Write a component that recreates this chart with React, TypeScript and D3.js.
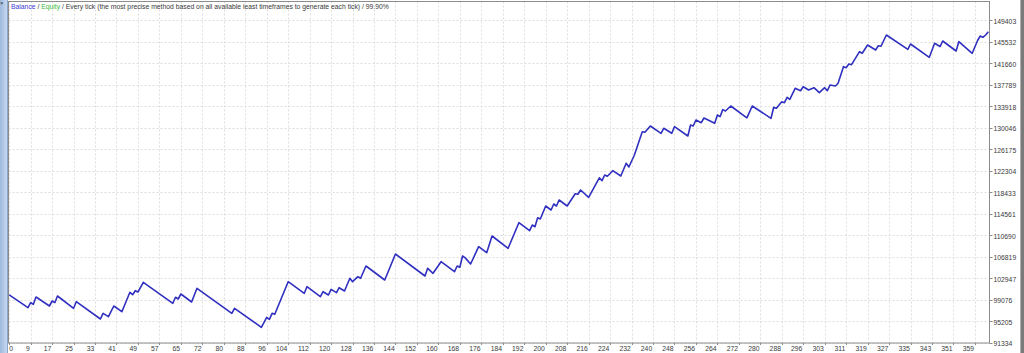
import React from "react";
import * as d3 from "d3";

// Trade index (x) and balance (y) at each vertex of the balance curve
const tradeIndex = [0,7,8,9,10,15,16,17,18,24,25,34,35,37,39,42,45,46,47,48,50,61,62,63,64,68,70,83,84,94,96,97,98,99,104,110,111,116,117,119,120,122,123,125,127,128,130,131,133,140,144,155,156,158,161,166,167,168,169,170,172,175,178,180,186,190,194,195,196,197,198,200,202,203,204,205,208,211,212,213,216,220,221,222,223,225,228,230,231,233,236,237,239,243,244,247,248,253,254,255,256,258,259,263,264,265,266,267,269,275,277,284,285,286,288,289,290,291,293,295,296,298,300,302,304,305,306,308,309,311,312,313,314,317,318,320,323,324,325,327,335,336,343,345,347,348,353,354,359,361,362,363,364,365];
const balance = [100000,97682,98582,98294,99607,97988,98887,98582,99786,97574,98761,95650,96675,96064,97988,96963,100452,100020,100740,100506,102250,98474,99553,99247,100146,98707,101171,96675,97574,94157,95956,95596,96675,96495,102358,100272,101459,99661,100560,99966,100991,100380,101279,100686,102970,102358,103257,102970,105182,102664,107340,103383,104768,103869,105955,104157,105182,104948,106980,106640,105540,108653,107574,110577,108365,112969,111530,112555,112249,113868,113634,115972,115253,116332,115972,117051,115972,118166,118076,118850,117537,121044,120522,121547,121331,122320,121367,123651,122986,125054,129334,129226,130359,129046,129946,129046,130233,128561,130539,130359,131438,130953,131798,130845,132338,132032,133300,133050,133956,131834,133956,131744,133722,133543,134730,134550,135521,135161,137139,136708,137427,136834,137247,136348,137247,136708,137733,137553,138038,141024,140844,141509,141384,143722,143434,144926,144027,144800,144700,146725,144153,145106,142714,145232,144650,145646,143847,145520,143434,145736,146545,146311,146725,147318];

// Axis tick labels as printed
const xTickLabels = [0,9,17,25,33,41,49,57,65,72,80,88,96,104,112,120,128,136,144,152,160,168,176,184,192,200,208,216,224,232,240,248,256,264,272,280,288,296,303,311,319,327,335,343,351,359];
const xTickStep = 8;
const yTickLabels = [91334,95205,99076,102947,106819,110690,114561,118433,122304,126175,130046,133918,137789,141660,145532,149403];

const legendRest = " / Every tick (the most precise method based on all available least timeframes to generate each tick) / 99.90%";

export default function App() {
  const W = 1024, H = 353;
  const left = 8.5, right = 989.5, top = 1.5, bottom = 343;
  const x = d3.scaleLinear().domain([0, (xTickLabels.length - 1) * xTickStep]).range([9.2, 974.9]);
  const y = d3.scaleLinear().domain([yTickLabels[0], yTickLabels[yTickLabels.length - 1]]).range([343, 20.1]);
  const pts: [number, number][] = tradeIndex.map((t, i) => [t, balance[i]]);
  const line = d3.line<[number, number]>().x(d => x(d[0])).y(d => y(d[1]));
  const font = "'Liberation Sans', Arial, sans-serif";
  const fs = 6.8;
  const textColor = "#3a3a3a";
  return (
    <div>
      <style>{"body{margin:0}"}</style>
      <svg width={W} height={H} style={{ display: "block" }} fontFamily={font}>
        <defs>
          <linearGradient id="side" x1="0" x2="1" y1="0" y2="0">
            <stop offset="0" stopColor="#9fbadf" />
            <stop offset="1" stopColor="#c6d8ee" />
          </linearGradient>
          <clipPath id="plot">
            <rect x={left} y={top} width={right - left} height={bottom - top} />
          </clipPath>
        </defs>
        <rect x={0} y={0} width={W} height={H} fill="#ffffff" />
        <rect x={0} y={0} width={7} height={H} fill="url(#side)" />
        <line x1={7.5} x2={7.5} y1={0} y2={H} stroke="#8aa6c8" />
        <text x={0} y={5} fontSize={6} fill="#333">×</text>
        <rect x={1020} y={0} width={4} height={H} fill="#7a7a7a" />
        <line x1={1020.5} x2={1020.5} y1={0} y2={H} stroke="#b0b0b0" />
        {/* grid */}
        <g stroke="#dedede" strokeWidth={1} strokeDasharray="2,2">
          {yTickLabels.map((v, i) => (
            <line key={"h" + i} x1={left} x2={right} y1={Math.round(y(v)) + 0.5} y2={Math.round(y(v)) + 0.5} />
          ))}
          {xTickLabels.map((_, k) => (
            <line key={"v" + k} x1={Math.round(x(k * xTickStep)) + 0.5} x2={Math.round(x(k * xTickStep)) + 0.5} y1={top} y2={bottom} />
          ))}
        </g>
        {/* frame */}
        <rect x={left} y={top} width={right - left} height={bottom - top} fill="none" stroke="#8c8c8c" strokeWidth={1} />
        {/* right axis */}
        {yTickLabels.map((v, i) => (
          <g key={"yt" + i}>
            <line x1={right} x2={right + 3} y1={Math.round(y(v)) + 0.5} y2={Math.round(y(v)) + 0.5} stroke="#8c8c8c" />
            <text x={993.5} y={y(v) + 3.4} fontSize={fs} fill={textColor}>{v}</text>
          </g>
        ))}
        {/* bottom axis */}
        {xTickLabels.map((lab, k) => (
          <g key={"xt" + k}>
            <line x1={Math.round(x(k * xTickStep)) + 0.5} x2={Math.round(x(k * xTickStep)) + 0.5} y1={bottom} y2={bottom + 2} stroke="#8c8c8c" />
            <text x={k === 0 ? x(0) : x(k * xTickStep) - 0.8} y={350.6} fontSize={fs} fill={textColor} textAnchor={k === 0 ? "start" : "end"}>{lab}</text>
          </g>
        ))}
        {/* balance curve */}
        <path d={line(pts) || ""} fill="none" stroke="#3030c0" strokeWidth={1.6} strokeLinejoin="round" clipPath="url(#plot)" />
        {/* legend */}
        <text x={11} y={9.2} fontSize={fs} fill={textColor}>
          <tspan fill="#3c3cd2">Balance</tspan>
          <tspan> / </tspan>
          <tspan fill="#3cbc3c">Equity</tspan>
          <tspan>{legendRest}</tspan>
        </text>
      </svg>
    </div>
  );
}
